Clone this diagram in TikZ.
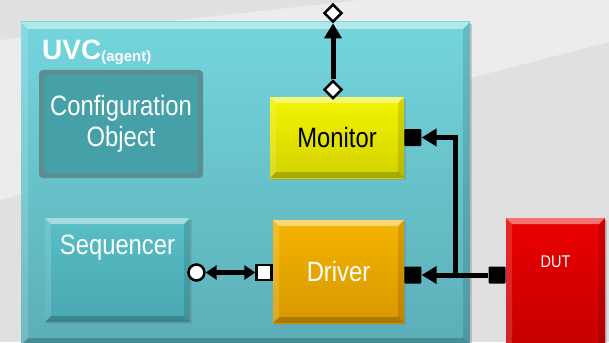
\documentclass[tikz,border=0pt]{standalone}
\usepackage{fontspec}
\setmainfont{Liberation Sans}
\newfontfamily\narrowfont[FakeStretch=0.85]{Liberation Sans}
\usepackage{xcolor}
\usepackage{tikz}
\usetikzlibrary{positioning}
\usetikzlibrary{arrows.meta,shapes.geometric,shadows}
\definecolor{bggray}{HTML}{E0E0E0}
\definecolor{bglight}{HTML}{ECECEC}
\definecolor{uvctop}{HTML}{74D5DD}
\definecolor{uvcbot}{HTML}{5CAEB7}
\definecolor{cfgfill}{HTML}{45A0A8}
\definecolor{cfgline}{HTML}{5B8D91}
\definecolor{seqtop}{HTML}{58BEC6}
\definecolor{seqbot}{HTML}{4AA8B1}
\definecolor{montop}{HTML}{F4F400}
\definecolor{monbot}{HTML}{D2D200}
\definecolor{drvtop}{HTML}{F6B400}
\definecolor{drvbot}{HTML}{D69800}
\definecolor{duttop}{HTML}{EA0000}
\definecolor{dutbot}{HTML}{C20000}
\tikzset{edge/.style = {->,> = {Triangle[length=15pt,width=17pt]},line width=5pt}}
\tikzset{dbl edge/.style = {<->,> = {Triangle[length=11pt,width=14pt]},line width=5pt}}
\tikzset{bevel/.style = {path picture={
  \fill[white,opacity=.45] (path picture bounding box.north west) -- (path picture bounding box.north east)
    -- ([xshift=-#1,yshift=-#1]path picture bounding box.north east) -- ([xshift=#1,yshift=-#1]path picture bounding box.north west) -- cycle;
  \fill[white,opacity=.15] (path picture bounding box.north west) -- ([xshift=#1,yshift=-#1]path picture bounding box.north west)
    -- ([xshift=#1,yshift=#1]path picture bounding box.south west) -- (path picture bounding box.south west) -- cycle;
  \fill[black,opacity=.12] (path picture bounding box.north east) -- ([xshift=-#1,yshift=-#1]path picture bounding box.north east)
    -- ([xshift=-#1,yshift=#1]path picture bounding box.south east) -- (path picture bounding box.south east) -- cycle;
  \fill[black,opacity=.2] (path picture bounding box.south west) -- ([xshift=#1,yshift=#1]path picture bounding box.south west)
    -- ([xshift=-#1,yshift=#1]path picture bounding box.south east) -- (path picture bounding box.south east) -- cycle;
  }}, bevel/.default=6pt}

\begin{document}
\begin{tikzpicture}[x=1pt,y=-1pt,
    txt/.style={inner sep=0pt,text=white,align=center,font=\narrowfont\fontsize{28}{31}\selectfont},
    box/.style={rectangle,txt,
      drop shadow={shadow xshift=1.5pt,shadow yshift=-2pt,opacity=.35}},
    port/.style={rectangle,fill=black,minimum size=17pt,inner sep=0pt,rounded corners=1pt},
    open port/.style={rectangle,fill=white,draw=black,line width=2.5pt,minimum size=15pt,inner sep=0pt},
    open dot/.style={circle,fill=white,draw=black,line width=2.5pt,minimum size=16pt,inner sep=0pt},
    open diamond/.style={diamond,fill=white,draw=black,line width=2.5pt,minimum size=18pt,inner sep=0pt}]
    \useasboundingbox (0,0) rectangle (609,342);
    \clip (0,0) rectangle (609,342);
    % background
    \fill[bggray] (0,0) rectangle (609,342);
    \fill[bglight] (0,40) -- (360,0) -- (609,0) -- (609,42) -- (0,200) -- cycle;

    \node[box,bevel=7pt,top color=uvctop,bottom color=uvcbot,minimum width=449pt,minimum height=323pt] (uvc) at (245.5,183.5) {};
    \node[anchor=base west,inner sep=0pt,text=white,font=\bfseries\fontsize{28}{28}\selectfont] (uvclabel) at (42,60)
        {UVC\raisebox{-1.5pt}{\fontsize{15}{15}\selectfont(agent)}};

    \node[box,fill=cfgfill,draw=cfgline,line width=5pt,rounded corners=2pt,minimum width=159pt,minimum height=103pt] (cfg) at (121,124) {Configuration\\Object};
    \node[box,bevel,top color=montop,bottom color=monbot,text=black,minimum width=134pt,minimum height=81pt] (mon) at (337,137.5) {Monitor};
    \node[box,bevel,top color=seqtop,bottom color=seqbot,minimum width=145pt,minimum height=104pt,
        label={[txt,anchor=north,yshift=-17pt]north:Sequencer}] (seq) at (117.5,270) {};
    \node[box,bevel,top color=drvtop,bottom color=drvbot,minimum width=131pt,minimum height=103pt] (drv) at (338.5,271.5) {Driver};
    \node[box,bevel,top color=duttop,bottom color=dutbot,minimum width=99pt,minimum height=142pt,
        label={[txt,font=\narrowfont\fontsize{17}{17}\selectfont,anchor=north,yshift=-38pt]north:DUT}] (dut) at (555.5,289) {};

    % ports
    \node[port] (monin) [right=0pt of mon] {};
    \node[port] (drvin) [right=0pt of drv,yshift=-3.5pt] {};
    \node[port,anchor=east] (dutport) at (dut.west |- drvin) {};
    \node[open port] (drvseq) [left=0pt of drv,yshift=-1pt] {};
    \node[open dot] (seqport) [right=-3pt of seq.east,yshift=-2.5pt] {};
    \node[open diamond] (mondia) [above=-3pt of mon,xshift=-4pt] {};
    \node[open diamond] (topdia) [above=56pt of mondia] {};
    \coordinate (tap) at ([xshift=34pt]drvin.east);

    \draw[edge] (dutport) -- (drvin);
    \draw[edge] (tap) |- (monin);
    \draw[edge] (mondia) -- (topdia);
    \draw[dbl edge] (seqport) -- (drvseq);
\end{tikzpicture}
\end{document}
